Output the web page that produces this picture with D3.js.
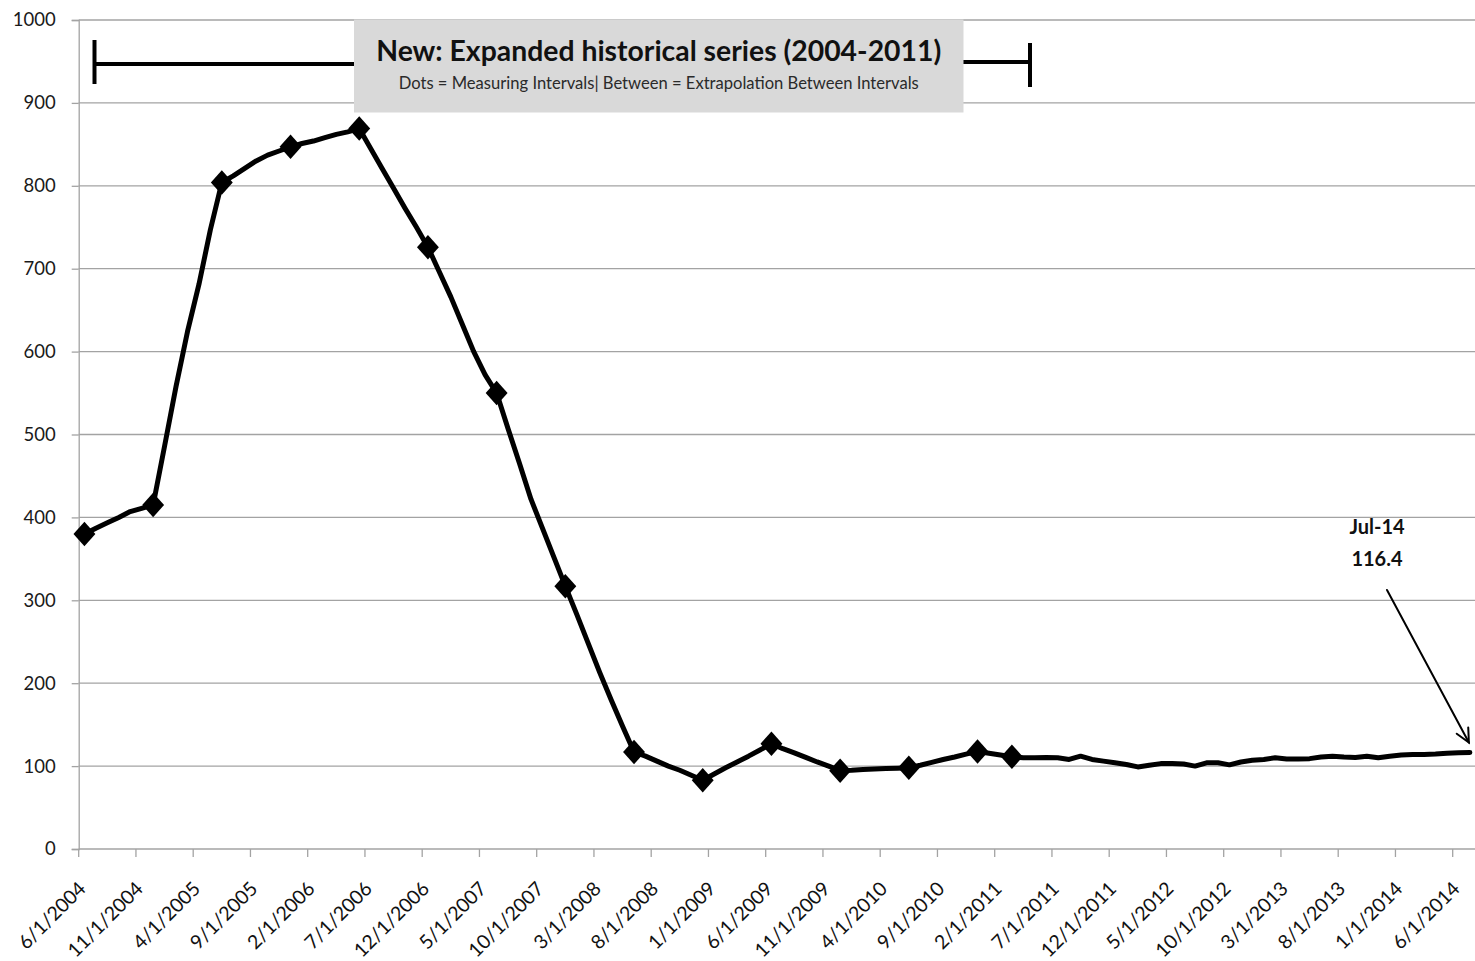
<!DOCTYPE html>
<html>
<head>
<meta charset="utf-8">
<script src="https://cdn.jsdelivr.net/npm/d3@7"></script>
<style>
  html, body { margin: 0; padding: 0; background: #fff; }
  svg { display: block; }
  text { font-family: Lato, "Open Sans", "Noto Sans", sans-serif; }
</style>
</head>
<body>
<svg id="chart" width="1475" height="961"></svg>
<script>
// Monthly categories, June 2004 through July 2014
const firstMonth = new Date(2004, 5, 1);
const lastMonth = new Date(2014, 6, 1);
const months = d3.timeMonth.range(firstMonth, d3.timeMonth.offset(lastMonth, 1));

// Monthly series values (one per month)
const values = [
  380, 387, 393.5, 400, 407, 411,          // Jun-04 .. Nov-04
  415, 486, 558, 624, 681, 747,            // Dec-04 .. May-05
  804, 812, 821, 830, 837, 842,            // Jun-05 .. Nov-05
  847, 851, 854, 858, 862, 865,            // Dec-05 .. May-06
  869, 845, 821, 797, 773, 750,            // Jun-06 .. Nov-06
  726, 696, 666, 633, 600, 572,            // Dec-06 .. May-07
  550, 507, 465, 422, 387, 352,            // Jun-07 .. Nov-07
  317, 283, 248, 213, 180, 148,            // Dec-07 .. May-08
  117, 112, 106, 100, 95, 89,              // Jun-08 .. Nov-08
  83, 90.5, 98, 105, 112, 119.5,           // Dec-08 .. May-09
  127, 121, 116, 110.5, 105, 100,          // Jun-09 .. Nov-09
  94.5, 95, 96, 96.5, 97, 97.5,            // Dec-09 .. May-10
  98, 101, 104.5, 108, 111, 114.5,         // Jun-10 .. Nov-10
  117.5, 115.5, 113.5, 111.3, 110, 110,    // Dec-10 .. May-11
  110.5, 110, 108, 112, 108, 106,          // Jun-11 .. Nov-11
  104, 102, 99, 101, 103, 103,             // Dec-11 .. May-12
  102.5, 100, 104, 104, 101.5, 105,        // Jun-12 .. Nov-12
  107, 108, 110, 108.5, 108.5, 109,        // Dec-12 .. May-13
  111, 112, 111, 110.5, 112, 110,          // Jun-13 .. Nov-13
  112, 113.5, 114, 114, 114.5, 115.5,      // Dec-13 .. May-14
  116, 116.4                               // Jun-14 .. Jul-14
];

// Months that were actually measured (drawn with dots)
const measuredIndex = [0, 6, 12, 18, 24, 30, 36, 42, 48, 54, 60, 66, 72, 78, 81];

// Axis ticks
const yTicks = [0, 100, 200, 300, 400, 500, 600, 700, 800, 900, 1000];
const xTickLabels = [
  "6/1/2004", "11/1/2004", "4/1/2005", "9/1/2005", "2/1/2006", "7/1/2006",
  "12/1/2006", "5/1/2007", "10/1/2007", "3/1/2008", "8/1/2008", "1/1/2009",
  "6/1/2009", "11/1/2009", "4/1/2010", "9/1/2010", "2/1/2011", "7/1/2011",
  "12/1/2011", "5/1/2012", "10/1/2012", "3/1/2013", "8/1/2013", "1/1/2014",
  "6/1/2014"
];
const xTickStep = 5;

// Text
const titleText = "New: Expanded historical series (2004-2011)";
const subtitleText = "Dots = Measuring Intervals| Between = Extrapolation Between Intervals";

const series = months.map((m, i) => ({ date: m, value: values[i], i }));

// ---------- layout ----------
const plot = { left: 78.7, right: 1475.6, top: 20, bottom: 849 };
const svg = d3.select("#chart");

const x = d3.scaleBand().domain(months).range([plot.left, plot.right]).padding(0);
const bw = x.bandwidth();
const cx = d => x(d) + bw / 2;
const y = d3.scaleLinear().domain([0, 1000]).range([plot.bottom, plot.top]);

const gridColor = "#a3a3a3";

// Horizontal gridlines
svg.append("g")
  .selectAll("line")
  .data(yTicks.filter(v => v > 0))
  .join("line")
  .attr("x1", plot.left).attr("x2", plot.right)
  .attr("y1", d => y(d)).attr("y2", d => y(d))
  .attr("stroke", gridColor).attr("stroke-width", 1.3);

// Y axis with outside ticks and labels
const yAxis = svg.append("g")
  .attr("transform", `translate(${plot.left},0)`)
  .call(d3.axisLeft(y).tickValues(yTicks).tickSize(7).tickPadding(16).tickFormat(d3.format("d")));
yAxis.select(".domain").attr("stroke", gridColor).attr("stroke-width", 1.3);
yAxis.selectAll(".tick line").attr("stroke", gridColor).attr("stroke-width", 1.3);
yAxis.selectAll(".tick text")
  .attr("font-family", "Lato, 'Open Sans', sans-serif")
  .attr("font-size", 18.5).attr("fill", "#1a1a1a");

// X axis line
svg.append("line")
  .attr("x1", plot.left).attr("x2", plot.right)
  .attr("y1", plot.bottom).attr("y2", plot.bottom)
  .attr("stroke", gridColor).attr("stroke-width", 1.3);

// X ticks at category boundaries, every fifth month
const tickMonths = months.filter((m, i) => i % xTickStep === 0);
svg.append("g")
  .selectAll("line")
  .data(tickMonths)
  .join("line")
  .attr("x1", d => x(d)).attr("x2", d => x(d))
  .attr("y1", plot.bottom).attr("y2", plot.bottom + 8)
  .attr("stroke", gridColor).attr("stroke-width", 1.3);

// Rotated category labels
svg.append("g")
  .selectAll("text")
  .data(tickMonths)
  .join("text")
  .attr("transform", d => `translate(${cx(d) + 2.5},${plot.bottom + 41}) rotate(-45)`)
  .attr("text-anchor", "end")
  .attr("font-size", 19.5)
  .attr("fill", "#111")
  .text((d, i) => xTickLabels[i]);

// Series line
const line = d3.line().x(d => cx(d.date)).y(d => y(d.value));
svg.append("path")
  .datum(series)
  .attr("d", line)
  .attr("fill", "none")
  .attr("stroke", "#000")
  .attr("stroke-width", 5)
  .attr("stroke-linejoin", "round")
  .attr("stroke-linecap", "round");

// Diamond markers at measured months
const diamond = {
  draw(ctx, size) {
    const w = Math.sqrt(size) * 0.5;
    const h = w * 1.12;
    ctx.moveTo(0, -h); ctx.lineTo(w, 0); ctx.lineTo(0, h); ctx.lineTo(-w, 0); ctx.closePath();
  }
};
svg.append("g")
  .selectAll("path")
  .data(measuredIndex.map(i => series[i]))
  .join("path")
  .attr("transform", d => `translate(${cx(d.date)},${y(d.value)})`)
  .attr("d", d3.symbol().type(diamond).size(480))
  .attr("fill", "#000");

// Bracket spanning the expanded historical period
const bracket = { x1: 94.5, x2: 1030, yL: 64, yR: 62, arm: 22 };
const bg = svg.append("g").attr("stroke", "#000").attr("stroke-width", 4).attr("fill", "none");
bg.append("line").attr("x1", bracket.x1).attr("x2", 360).attr("y1", bracket.yL).attr("y2", bracket.yL);
bg.append("line").attr("x1", bracket.x1).attr("x2", bracket.x1).attr("y1", bracket.yL - bracket.arm - 2).attr("y2", bracket.yL + bracket.arm - 2);
bg.append("line").attr("x1", 958).attr("x2", bracket.x2).attr("y1", bracket.yR).attr("y2", bracket.yR);
bg.append("line").attr("x1", bracket.x2).attr("x2", bracket.x2).attr("y1", bracket.yR - 19).attr("y2", bracket.yR + 25);

// Title box
const box = { x: 354, y: 19.5, w: 609.5, h: 93 };
svg.append("rect")
  .attr("x", box.x).attr("y", box.y).attr("width", box.w).attr("height", box.h)
  .attr("fill", "#d9d9d9");
svg.append("text")
  .attr("x", box.x + box.w / 2).attr("y", 61)
  .attr("text-anchor", "middle")
  .attr("font-weight", 700).attr("font-size", 29)
  .attr("textLength", 565).attr("lengthAdjust", "spacingAndGlyphs")
  .attr("fill", "#111")
  .text(titleText);
svg.append("text")
  .attr("x", box.x + box.w / 2).attr("y", 89)
  .attr("text-anchor", "middle")
  .attr("font-size", 17)
  .attr("textLength", 520).attr("lengthAdjust", "spacingAndGlyphs")
  .attr("fill", "#2a2a2a")
  .text(subtitleText);

// Latest value callout
const last = series[series.length - 1];
const lx = cx(last.date), ly = y(last.value);
const labelX = 1377;
svg.append("text")
  .attr("x", labelX).attr("y", 534)
  .attr("text-anchor", "middle").attr("font-weight", 700).attr("font-size", 20)
  .attr("fill", "#111")
  .text(d3.timeFormat("%b-%y")(last.date));
svg.append("text")
  .attr("x", labelX).attr("y", 565.5)
  .attr("text-anchor", "middle").attr("font-weight", 700).attr("font-size", 20)
  .attr("fill", "#111")
  .text(d3.format(".1f")(last.value));

const a0 = [labelX + 10, 590];
const a1 = [lx - 1, ly - 10];
const ang = Math.atan2(a1[1] - a0[1], a1[0] - a0[0]);
const headLen = 15, headSpread = 0.45;
const ag = svg.append("g").attr("stroke", "#000").attr("stroke-width", 2).attr("fill", "none")
  .attr("stroke-linecap", "round");
ag.append("line").attr("x1", a0[0]).attr("y1", a0[1]).attr("x2", a1[0]).attr("y2", a1[1]);
ag.append("path").attr("d", d3.line()([
  [a1[0] - headLen * Math.cos(ang - headSpread), a1[1] - headLen * Math.sin(ang - headSpread)],
  a1,
  [a1[0] - headLen * Math.cos(ang + headSpread), a1[1] - headLen * Math.sin(ang + headSpread)]
]));
</script>
</body>
</html>
